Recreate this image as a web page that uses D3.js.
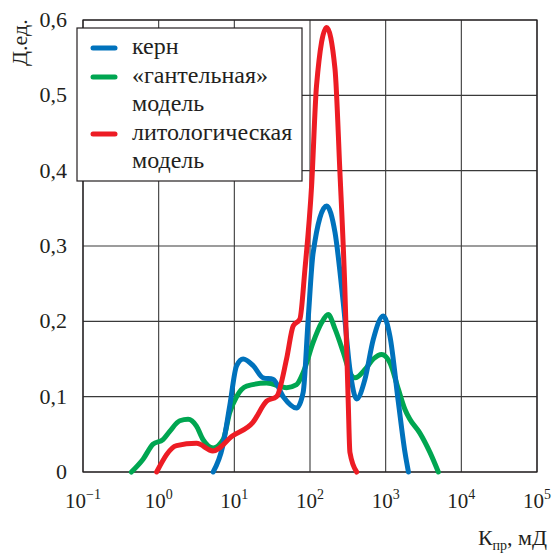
<!DOCTYPE html>
<html>
<head>
<meta charset="utf-8">
<script src="https://cdn.jsdelivr.net/npm/d3@7"></script>
<style>
body { margin: 0; background: #fff; }
</style>
</head>
<body>
<div id="chart"></div>
<script>
// permeability, mD
var kernK  = [5.25, 7.05, 8.7, 10.7, 13.1, 17.8, 24, 32.6, 44.3, 66.5, 81.3, 94.6, 110, 166, 214, 275, 337, 413, 532, 686, 929, 1140, 1470, 1800, 2000];
var kernV  = [0, 0.035, 0.088, 0.141, 0.15, 0.141, 0.125, 0.123, 0.10, 0.085, 0.106, 0.203, 0.291, 0.353, 0.318, 0.225, 0.136, 0.097, 0.123, 0.176, 0.207, 0.18, 0.093, 0.026, 0];

var gantK  = [0.436, 0.622, 0.843, 1.14, 1.40, 1.90, 2.45, 3.16, 3.86, 5.25, 7.11, 8.7, 10.7, 14.5, 26.7, 49, 66.5, 81.3, 110, 142, 174, 214, 275, 337, 393, 532, 686, 885, 1140, 1470, 1800, 2090, 2820, 3850, 4970];
var gantV  = [0, 0.017, 0.037, 0.043, 0.054, 0.068, 0.07, 0.061, 0.043, 0.032, 0.043, 0.079, 0.10, 0.114, 0.118, 0.112, 0.116, 0.132, 0.172, 0.198, 0.209, 0.19, 0.159, 0.132, 0.125, 0.136, 0.15, 0.156, 0.145, 0.11, 0.083, 0.07, 0.052, 0.026, 0];

var litoK  = [0.94, 1.72, 3.16, 5.2, 9.5, 17.6, 26.7, 36.1, 49, 60, 73.5, 85.7, 105, 122, 166, 214, 248, 288, 320, 337, 414];
var litoV  = [0, 0.035, 0.038, 0.028, 0.048, 0.066, 0.094, 0.10, 0.15, 0.194, 0.203, 0.269, 0.38, 0.513, 0.59, 0.535, 0.40, 0.247, 0.093, 0.026, 0];

var xTicks = [1e-1, 1e0, 1e1, 1e2, 1e3, 1e4, 1e5];
var xTickPow = ["\u22121", "0", "1", "2", "3", "4", "5"];
var yTicks = [0, 0.1, 0.2, 0.3, 0.4, 0.5, 0.6];

var seriesNames = ["керн", "«гантельная»|модель", "литологическая|модель"];
var seriesColors = ["#0072bc", "#00a651", "#ed1c24"];

var FONT = "'Liberation Serif', 'Tinos', serif";
var W = 553, H = 554;
var margin = {left: 83, top: 20, right: 16, bottom: 82};
var w = W - margin.left - margin.right;
var h = H - margin.top - margin.bottom;

var svg = d3.select("#chart").append("svg")
	.attr("width", W)
	.attr("height", H)
	.style("font-family", FONT);

var g = svg.append("g").attr("transform", "translate(" + margin.left + "," + margin.top + ")");

var x = d3.scaleLog().domain([1e-1, 1e5]).range([0, w]);
var y = d3.scaleLinear().domain([0, 0.6]).range([h, 0]);

var ru = d3.formatLocale({decimal: ",", thousands: " ", grouping: [3], currency: ["", ""]});
var fmt = ru.format(".1f");

// grid
g.selectAll(".vgrid").data(xTicks).enter().append("line")
	.attr("x1", function(d) { return x(d); })
	.attr("x2", function(d) { return x(d); })
	.attr("y1", 0).attr("y2", h)
	.style("stroke", "#3a3a3a").style("stroke-width", 1.1);

g.selectAll(".hgrid").data(yTicks).enter().append("line")
	.attr("x1", 0).attr("x2", w)
	.attr("y1", function(d) { return y(d); })
	.attr("y2", function(d) { return y(d); })
	.style("stroke", "#3a3a3a").style("stroke-width", 1.1);

g.append("rect")
	.attr("width", w).attr("height", h)
	.style("fill", "none").style("stroke", "#231f20").style("stroke-width", 1.2);

// y labels
g.selectAll(".ylab").data(yTicks).enter().append("text")
	.attr("x", -16)
	.attr("y", function(d) { return y(d) + 7; })
	.attr("text-anchor", "end")
	.style("font-size", "22px")
	.style("fill", "#231f20")
	.text(function(d) { return d === 0 ? "0" : fmt(d); });

// x labels
var xl = g.selectAll(".xlab").data(xTicks).enter().append("text")
	.attr("x", function(d) { return x(d); })
	.attr("y", h + 36)
	.attr("text-anchor", "middle")
	.style("font-size", "21px")
	.style("fill", "#231f20");
xl.append("tspan").text("10");
xl.append("tspan")
	.attr("dy", -9)
	.style("font-size", "14px")
	.text(function(d, i) { return xTickPow[i]; });

// axis titles
svg.append("text")
	.attr("transform", "translate(27,66) rotate(-90)")
	.style("font-size", "22px")
	.style("fill", "#231f20")
	.text("Д.ед.");

var xt = svg.append("text")
	.attr("x", 547).attr("y", 545)
	.attr("text-anchor", "end")
	.style("font-size", "22px")
	.style("fill", "#231f20");
xt.append("tspan").text("К");
xt.append("tspan").attr("dy", 5).style("font-size", "14px").text("пр");
xt.append("tspan").attr("dy", -5).text(", мД");

// curves
var line = d3.line()
	.x(function(d) { return x(d[0]); })
	.y(function(d) { return y(d[1]); })
	.curve(d3.curveMonotoneX);

var series = [d3.zip(kernK, kernV), d3.zip(gantK, gantV), d3.zip(litoK, litoV)];

// green under blue, red on top
[1, 0, 2].forEach(function(i) {
	g.append("path")
		.datum(series[i])
		.attr("d", line)
		.style("fill", "none")
		.style("stroke", seriesColors[i])
		.style("stroke-width", 5)
		.style("stroke-linejoin", "round")
		.style("stroke-linecap", "round");
});

// legend
var lg = svg.append("g").attr("transform", "translate(77,28)");
lg.append("rect")
	.attr("width", 225).attr("height", 153)
	.style("fill", "#fff").style("stroke", "#231f20").style("stroke-width", 1.2);

var rowY = [20, 49, 106];
seriesNames.forEach(function(name, i) {
	lg.append("line")
		.attr("x1", 16).attr("x2", 38)
		.attr("y1", rowY[i]).attr("y2", rowY[i])
		.style("stroke", seriesColors[i])
		.style("stroke-width", 5)
		.style("stroke-linecap", "round");
	name.split("|").forEach(function(part, j) {
		lg.append("text")
			.attr("x", 55)
			.attr("y", rowY[i] + 6 + j * 28)
			.style("font-size", "24px")
			.style("fill", "#231f20")
			.text(part);
	});
});
</script>
</body>
</html>
